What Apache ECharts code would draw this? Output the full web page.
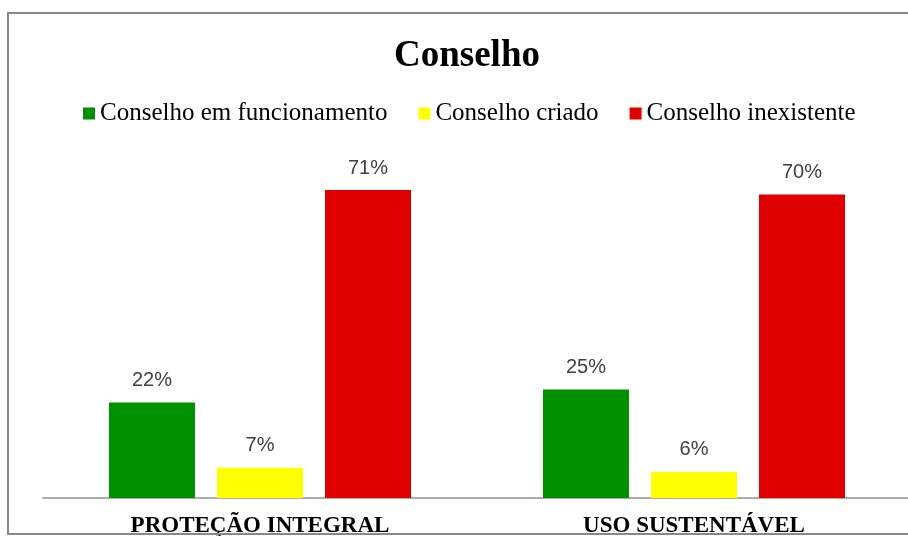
<!DOCTYPE html>
<html>
<head>
<meta charset="utf-8">
<script src="https://cdn.jsdelivr.net/npm/echarts@6/dist/echarts.min.js"></script>
<style>html,body{margin:0;padding:0;background:#fff}#c{width:908px;height:536px}</style>
</head>
<body>
<div id="c"></div>
<script>
const categories = ['PROTEÇÃO INTEGRAL', 'USO SUSTENTÁVEL'];
const seriesNames = ['Conselho em funcionamento', 'Conselho criado', 'Conselho inexistente'];
const funcionamento = [22, 25];
const criado = [7, 6];
const inexistente = [71, 70];
const colors = ['#009000', '#FFFF00', '#E00000'];

const chart = echarts.init(document.getElementById('c'));
const values = [funcionamento, criado, inexistente];
const serif = '"Liberation Serif", "Times New Roman", serif';
chart.setOption({
  animation: false,
  backgroundColor: '#fff',
  title: {
    text: 'Conselho', left: 394, top: 38, padding: 0,
    textStyle: { fontFamily: serif, fontWeight: 'bold', fontSize: 37, color: '#000' }
  },
  legend: {
    top: 96, left: 78, icon: 'rect', itemWidth: 12, itemHeight: 12, itemGap: 31,
    textStyle: { fontFamily: serif, fontSize: 25, color: '#000' },
    data: seriesNames
  },
  grid: { left: 43, right: -3, top: 151, bottom: 38, containLabel: false, outerBoundsMode: 'none' },
  xAxis: {
    type: 'category', data: categories,
    axisLine: { lineStyle: { color: '#ababab', width: 2 } },
    axisTick: { show: false },
    axisLabel: { margin: 17, fontFamily: serif, fontWeight: 'bold', fontSize: 23, color: '#000' }
  },
  yAxis: { type: 'value', min: 0, max: 80, show: false, splitLine: { show: false } },
  graphic: [{
    type: 'rect', shape: { x: 8, y: 13, width: 910, height: 521 },
    style: { fill: 'none', stroke: '#888', lineWidth: 2 }, silent: true, z: 100
  }],
  series: seriesNames.map((n, i) => ({
    name: n, type: 'bar', data: values[i], barWidth: 86, barGap: '25.6%',
    itemStyle: { color: colors[i] },
    label: {
      show: true, position: 'top', distance: 12, formatter: '{c}%',
      fontFamily: '"Liberation Sans", Arial, sans-serif', fontSize: 20, color: '#404040'
    }
  }))
});
</script>
</body>
</html>
